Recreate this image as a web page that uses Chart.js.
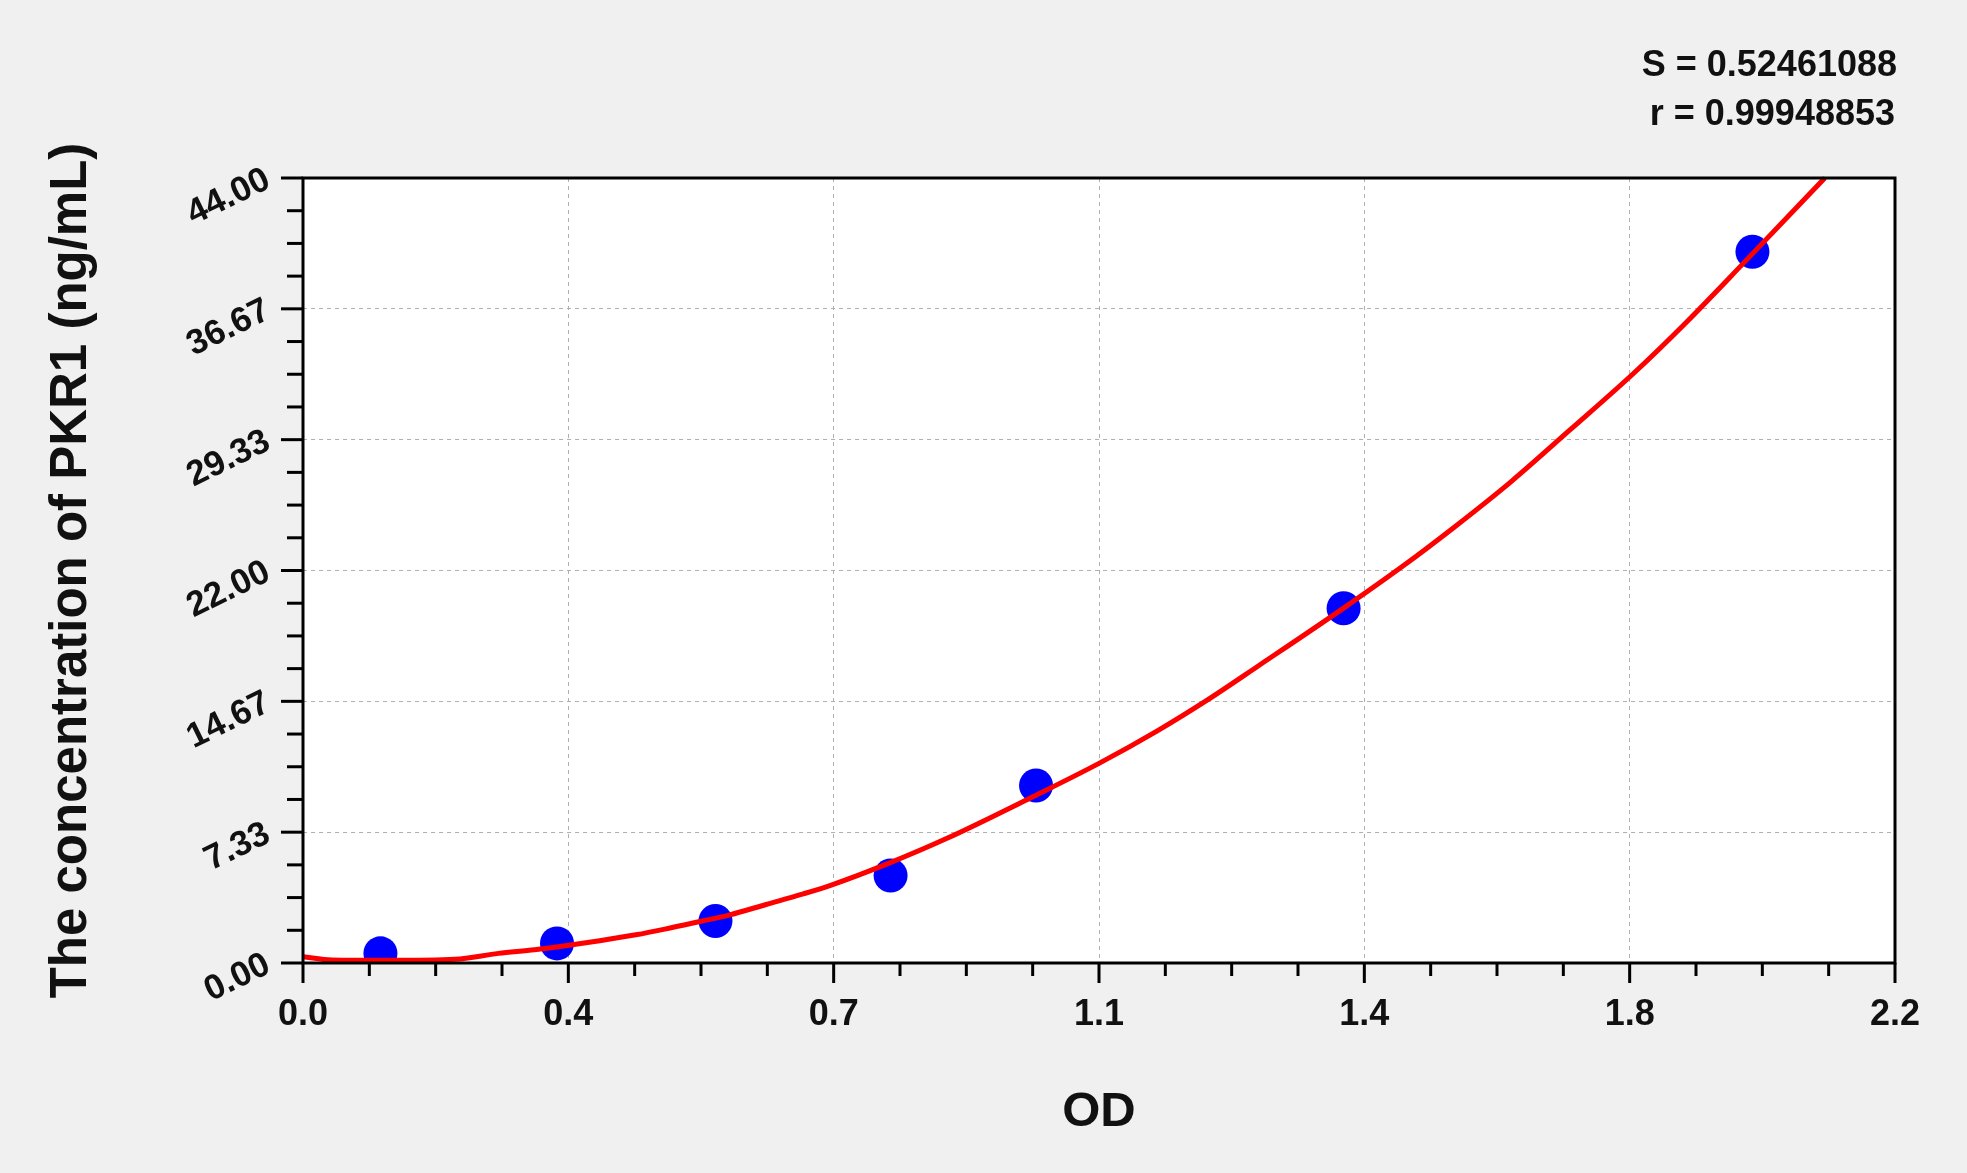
<!DOCTYPE html>
<html>
<head>
<meta charset="utf-8">
<script src="https://cdn.jsdelivr.net/npm/chart.js@4.4.1/dist/chart.umd.min.js"></script>
<style>
html,body{margin:0;padding:0;background:#f0f0f0;}
#wrap{width:1967px;height:1173px;position:relative;}
</style>
</head>
<body>
<div id="wrap"><canvas id="c"></canvas></div>
<script>
// ---- data ----
const pointOD   = [0.107, 0.351, 0.570, 0.812, 1.013, 1.438, 2.003];
const pointConc = [0.54, 1.10, 2.35, 4.90, 9.95, 19.88, 39.87];

const curveOD   = [0.00, 0.04, 0.12, 0.21, 0.27, 0.32, 0.36, 0.41, 0.46, 0.50, 0.55, 0.59, 0.64, 0.69, 0.73, 0.81, 0.89, 1.01, 1.10, 1.18, 1.25, 1.32, 1.44, 1.52, 1.59, 1.67, 1.75, 1.84, 1.91, 1.99, 2.103];
const curveConc = [0.35, 0.17, 0.15, 0.21, 0.54, 0.74, 0.95, 1.25, 1.58, 1.90, 2.34, 2.70, 3.28, 3.86, 4.37, 5.60, 6.99, 9.35, 11.19, 13.00, 14.75, 16.65, 19.95, 22.25, 24.40, 27.00, 29.85, 33.10, 35.85, 39.20, 44.00];

const xTickValues = [0, 0.366667, 0.733333, 1.1, 1.466667, 1.833333, 2.2];
const xTickLabels = ["0.0", "0.4", "0.7", "1.1", "1.4", "1.8", "2.2"];
const yTickValues = [0, 7.333333, 14.666667, 22, 29.333333, 36.666667, 44];
const yTickLabels = ["0.00", "7.33", "14.67", "22.00", "29.33", "36.67", "44.00"];

const statLines = ["S = 0.52461088", "r = 0.99948853"];
const xTitle = "OD";
const yTitle = "The concentration of PKR1 (ng/mL)";

// ---- chart ----
const FONT = '"Liberation Sans", Arial, sans-serif';

const decor = {
  id: 'decor',
  beforeDraw(chart) {
    const {ctx, chartArea: a} = chart;
    ctx.save();
    ctx.fillStyle = '#f0f0f0';
    ctx.fillRect(0, 0, chart.width, chart.height);
    ctx.fillStyle = '#ffffff';
    ctx.fillRect(a.left, a.top, a.right - a.left, a.bottom - a.top);
    ctx.restore();
  },
  afterDraw(chart) {
    const {ctx, chartArea: a} = chart;
    const xs = chart.scales.x, ys = chart.scales.y;
    ctx.save();
    ctx.strokeStyle = '#000';
    ctx.lineWidth = 3;
    ctx.lineCap = 'butt';
    // x ticks
    for (let i = 0; i < xTickValues.length; i++) {
      const p = xs.getPixelForValue(xTickValues[i]);
      ctx.beginPath(); ctx.moveTo(p, a.bottom); ctx.lineTo(p, a.bottom + 20); ctx.stroke();
      if (i < xTickValues.length - 1) {
        for (let k = 1; k < 4; k++) {
          const v = xTickValues[i] + (xTickValues[i + 1] - xTickValues[i]) * k / 4;
          const q = xs.getPixelForValue(v);
          ctx.beginPath(); ctx.moveTo(q, a.bottom); ctx.lineTo(q, a.bottom + 13); ctx.stroke();
        }
      }
    }
    // y ticks
    for (let i = 0; i < yTickValues.length; i++) {
      const p = ys.getPixelForValue(yTickValues[i]);
      ctx.beginPath(); ctx.moveTo(a.left, p); ctx.lineTo(a.left - 22, p); ctx.stroke();
      if (i < yTickValues.length - 1) {
        for (let k = 1; k < 4; k++) {
          const v = yTickValues[i] + (yTickValues[i + 1] - yTickValues[i]) * k / 4;
          const q = ys.getPixelForValue(v);
          ctx.beginPath(); ctx.moveTo(a.left, q); ctx.lineTo(a.left - 16, q); ctx.stroke();
        }
      }
    }
    // frame
    ctx.strokeRect(a.left, a.top, a.right - a.left, a.bottom - a.top);
    // stats
    ctx.fillStyle = '#111';
    ctx.font = 'bold 36px ' + FONT;
    ctx.textAlign = 'right';
    ctx.textBaseline = 'alphabetic';
    ctx.fillText(statLines[0], a.right + 2, 76);
    ctx.fillText(statLines[1], a.right, 125);
    ctx.restore();
  }
};

new Chart(document.getElementById('c'), {
  type: 'scatter',
  data: {
    datasets: [
      {
        label: 'fit',
        data: curveOD.map((x, i) => ({x: x, y: curveConc[i]})),
        showLine: true,
        borderColor: '#ff0000',
        backgroundColor: '#ff0000',
        borderWidth: 5,
        pointRadius: 0,
        cubicInterpolationMode: 'monotone',
        clip: 4
      },
      {
        label: 'standards',
        data: pointOD.map((x, i) => ({x: x, y: pointConc[i]})),
        showLine: false,
        backgroundColor: '#0000ff',
        borderColor: '#0000ff',
        borderWidth: 0,
        pointRadius: 17,
        pointHoverRadius: 17
      }
    ]
  },
  options: {
    responsive: true,
    maintainAspectRatio: false,
    animation: false,
    events: [],
    layout: { padding: { left: 0, right: 72, top: 178, bottom: 0 } },
    plugins: { legend: { display: false }, tooltip: { enabled: false }, title: { display: false } },
    scales: {
      x: {
        type: 'linear',
        min: 0, max: 2.2,
        afterBuildTicks(scale) { scale.ticks = xTickValues.map(v => ({value: v})); },
        afterFit(scale) { scale.height = 210; },
        grid: { color: '#b0b0b0', lineWidth: 1, drawTicks: false },
        border: { display: false, dash: [4, 4] },
        ticks: {
          autoSkip: false,
          maxRotation: 0, minRotation: 0,
          padding: 30,
          color: '#111',
          font: { family: FONT, size: 36, weight: 'bold' },
          callback(value, index) { return xTickLabels[index]; }
        },
        title: {
          display: true, text: xTitle, color: '#111',
          font: { family: FONT, size: 49, weight: 'bold' },
          padding: { top: 0, bottom: 31 }
        }
      },
      y: {
        type: 'linear',
        min: 0, max: 44,
        afterBuildTicks(scale) { scale.ticks = yTickValues.map(v => ({value: v})); },
        afterFit(scale) { scale.width = 303; },
        grid: { color: '#b0b0b0', lineWidth: 1, drawTicks: false },
        border: { display: false, dash: [4, 4] },
        ticks: {
          autoSkip: false,
          minRotation: 26, maxRotation: 26,
          padding: 35,
          color: '#111',
          font: { family: FONT, size: 35, weight: 'bold' },
          callback(value, index) { return yTickLabels[index]; }
        },
        title: {
          display: true, text: yTitle, color: '#111',
          font: { family: FONT, size: 51, weight: 'bold' },
          padding: { top: 41, bottom: 0 }
        }
      }
    }
  },
  plugins: [decor]
});
</script>
</body>
</html>
